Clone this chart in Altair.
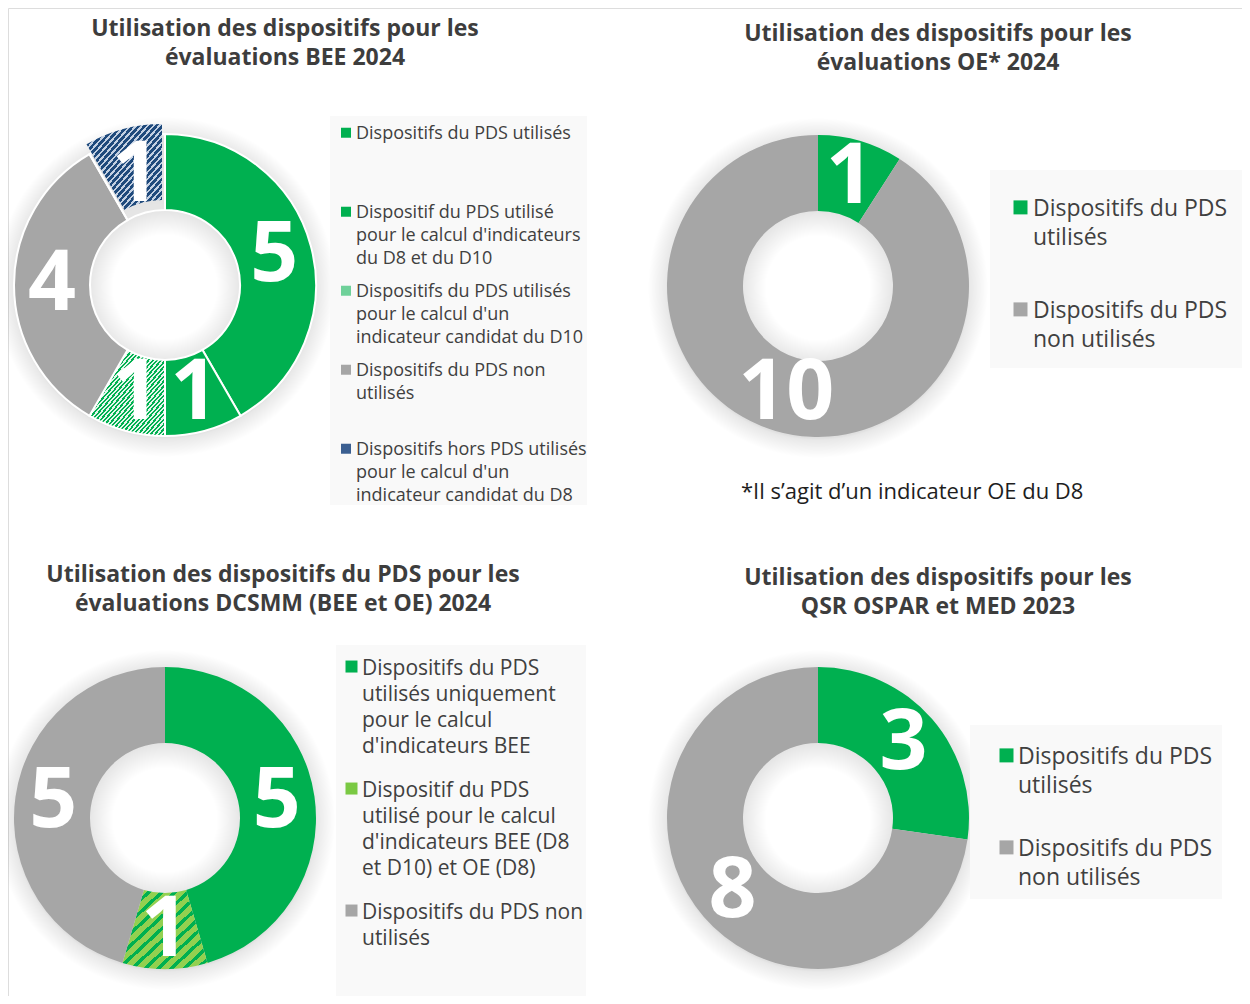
import json
import altair as alt
import pandas as pd

GREEN = "#00B050"
GRAY = "#A6A6A6"
TEXT = "#404040"
FONT = "Open Sans"

# ---------------- data ----------------
bee_title = ["Utilisation des dispositifs pour les", "évaluations BEE 2024"]
bee_labels = [
    ["Dispositifs du PDS utilisés"],
    ["Dispositif du PDS utilisé", "pour le calcul d'indicateurs", "du D8 et du D10"],
    ["Dispositifs du PDS utilisés", "pour le calcul d'un", "indicateur candidat du D10"],
    ["Dispositifs du PDS non", "utilisés"],
    ["Dispositifs hors PDS utilisés", "pour le calcul d'un", "indicateur candidat du D8"],
]
bee_values = [5, 1, 1, 4, 1]

oe_title = ["Utilisation des dispositifs pour les", "évaluations OE* 2024"]
oe_labels = [["Dispositifs du PDS", "utilisés"], ["Dispositifs du PDS", "non utilisés"]]
oe_values = [1, 10]
oe_note = ["*Il s’agit d’un indicateur OE du D8"]

dcsmm_title = ["Utilisation des dispositifs du PDS pour les", "évaluations DCSMM (BEE et OE) 2024"]
dcsmm_labels = [
    ["Dispositifs du PDS", "utilisés uniquement", "pour le calcul", "d'indicateurs BEE"],
    ["Dispositif du PDS", "utilisé pour le calcul", "d'indicateurs BEE (D8", "et D10) et OE (D8)"],
    ["Dispositifs du PDS non", "utilisés"],
]
dcsmm_values = [5, 1, 5]

qsr_title = ["Utilisation des dispositifs pour les", "QSR OSPAR et MED 2023"]
qsr_labels = [["Dispositifs du PDS", "utilisés"], ["Dispositifs du PDS", "non utilisés"]]
qsr_values = [3, 8]


def cats_of(labels):
    return ["\n".join(l) for l in labels]


# ---------------- styles ----------------
def stripes(c1, c2, n, frac):
    stops = []
    for i in range(n):
        a, b, c = i / n, (i + frac) / n, (i + 1) / n
        stops += [
            {"offset": a, "color": c1},
            {"offset": b, "color": c1},
            {"offset": b, "color": c2},
            {"offset": c, "color": c2},
        ]
    return {"gradient": "linear", "x1": 0, "y1": 0, "x2": 1, "y2": 1, "stops": stops}


CHECK_GREEN = stripes("#00B050", "#E2F6EA", 36, 0.5)
DOTS_BLUE = stripes("#1F4A7C", "#C3D0E2", 26, 0.6)
STRIPE_GREEN = stripes("#00B050", "#92D050", 13, 0.38)

SHADOW_R = 170
SHADOW = {
    "gradient": "radial", "x1": 0.5, "y1": 0.5, "r1": 0, "x2": 0.5, "y2": 0.5, "r2": 0.5,
    "stops": [
        {"offset": 0.0, "color": "rgba(0,0,0,0)"},
        {"offset": 52 / SHADOW_R, "color": "rgba(0,0,0,0)"},
        {"offset": 76 / SHADOW_R, "color": "rgba(0,0,0,0.10)"},
        {"offset": 150 / SHADOW_R, "color": "rgba(0,0,0,0.12)"},
        {"offset": 152 / SHADOW_R, "color": "rgba(0,0,0,0.09)"},
        {"offset": 1.0, "color": "rgba(0,0,0,0)"},
    ],
}

# legend line spacing differs per panel (legend labels share one style);
# the DCSMM legend is recognised by its labels and their position in its domain
_dc = json.dumps(cats_of(dcsmm_labels), ensure_ascii=False)
_bee = json.dumps(cats_of(bee_labels), ensure_ascii=False)
LH_EXPR = (
    "(indexof(%s, datum.value) >= 0 && indexof(%s, datum.value) == datum.index) ? 26 : "
    "(indexof(%s, datum.value) >= 0 ? 23 : 29.5)" % (_dc, _dc, _bee)
)


def square_path(fs, side):
    # square symbol shifted down so it lines up with the first text line
    u = 0.43 * fs / (side / 2.0)
    return "M-1,%.3fH1V%.3fH-1Z" % (-1 + u, 1 + u)


def legend(x, y, pad, fs, side, rowpad, nlines, soff=0, loff=1):
    return alt.Legend(
        orient="none", legendX=x, legendY=y, title=None,
        fillColor="#F9F9F9", padding=pad,
        labelFont=FONT, labelFontSize=fs, labelColor=TEXT, labelLimit=600,
        labelBaseline="top", labelOffset=loff,
        labelExpr="slice(split(datum.label + '\\n \\n \\n \\n', '\\n'), 0, %d)" % nlines,
        symbolType=square_path(fs, side), symbolSize=side * side,
        symbolStrokeWidth=0, symbolOffset=soff,
        rowPadding=rowpad,
    )


def donut(labels, values, colors, cx, cy, leg, cond=None, explode=None, stroke=False):
    cats = cats_of(labels)
    df = pd.DataFrame({"k": list(range(len(values))), "cat": cats, "v": values})
    base = alt.Chart(df).transform_window(
        cum="sum(v)", sort=[alt.SortField("k")], frame=[None, 0]
    ).transform_calculate(start="datum.cum - datum.v", mid="datum.cum - datum.v / 2")
    tscale = alt.Scale(domain=[0, sum(values)], nice=False)
    ckw = dict(scale=alt.Scale(domain=cats, range=colors), legend=leg)
    if cond:
        ckw["condition"] = cond
    shadow = base.transform_filter("datum.k == 0").mark_arc(
        innerRadius=0, outerRadius=SHADOW_R, theta=0, theta2=6.2832, fill=SHADOW
    ).encode(x=alt.value(cx), y=alt.value(cy + 2))
    mk = dict(innerRadius=75, outerRadius=151)
    if stroke:
        mk.update(stroke="white", strokeWidth=2)
    arcs = base.mark_arc(**mk).encode(
        theta=alt.Theta("start:Q", scale=tscale),
        theta2="cum:Q",
        color=alt.Color("cat:N", **ckw),
        x=alt.value(cx), y=alt.value(cy),
    )
    layers = [shadow, arcs]
    if explode:
        k, dx, dy, fill = explode
        layers.append(
            base.transform_filter("datum.k == %d" % k)
            .mark_arc(innerRadius=75, outerRadius=151, fill=fill)
            .encode(theta=alt.Theta("start:Q", scale=tscale), theta2="cum:Q",
                    x=alt.value(cx + dx), y=alt.value(cy + dy))
        )
    txt = base.mark_text(radius=113, font=FONT, fontSize=84, fontWeight="bold",
                         color="white", align="center", baseline="middle").encode(
        theta=alt.Theta("mid:Q", scale=tscale), text="v:Q",
        x=alt.value(cx), y=alt.value(cy),
    )
    layers.append(txt)
    return alt.layer(*layers)


def text_block(lines, x, y, size, weight="bold", align="center", color="#3D3D3D", lh=29):
    df = pd.DataFrame({"t": ["\n".join(lines)]})
    return alt.Chart(df).mark_text(
        font=FONT, fontSize=size, fontWeight=weight, color=color, align=align,
        baseline="alphabetic", lineBreak="\n", lineHeight=lh,
    ).encode(text="t:N", x=alt.value(x), y=alt.value(y))


d1 = donut(
    bee_labels, bee_values, [GREEN, GREEN, "#6FD19A", GRAY, "#3B5F91"], 157, 277,
    legend(322, 108, 0, 18, 10, 6, 3, soff=7, loff=1),
    cond=[{"test": "datum.k == 2", "value": CHECK_GREEN},
          {"test": "datum.k == 4", "value": "transparent"}],
    explode=(4, -3, -10, DOTS_BLUE), stroke=True,
)
d2 = donut(oe_labels, oe_values, [GREEN, GRAY], 810, 278,
           legend(982, 162, 16, 23, 14, 38, 2, soff=3, loff=1))
d3 = donut(
    dcsmm_labels, dcsmm_values, [GREEN, "#7AC943", GRAY], 157, 810,
    legend(328, 637, 2, 21, 12, 12, 4, soff=3, loff=0),
    cond=[{"test": "datum.k == 1", "value": STRIPE_GREEN}],
)
d4 = donut(qsr_labels, qsr_values, [GREEN, GRAY], 810, 810,
           legend(962, 717, 9, 23, 14, 28, 2, soff=16, loff=0))

t1 = text_block(bee_title, 277, 28, 23)
t2 = text_block(oe_title, 930, 33, 23)
t3 = text_block(dcsmm_title, 275, 574, 23)
t4 = text_block(qsr_title, 930, 577, 23)
note = text_block(oe_note, 733, 491, 22, weight="normal", align="left", color="#1E1E1E")

chart = alt.layer(d1, d2, d3, d4, t1, t2, t3, t4, note).resolve_scale(
    theta="independent", color="independent"
).resolve_legend(color="independent").properties(
    width=1234, height=988, padding=0,
    autosize=alt.AutoSizeParams(type="none"),
).configure_view(stroke=None).configure(
    style={"guide-label": {"lineHeight": {"expr": LH_EXPR}}}
)

chart.save("out.html", embed_options={"renderer": "svg", "actions": False})
